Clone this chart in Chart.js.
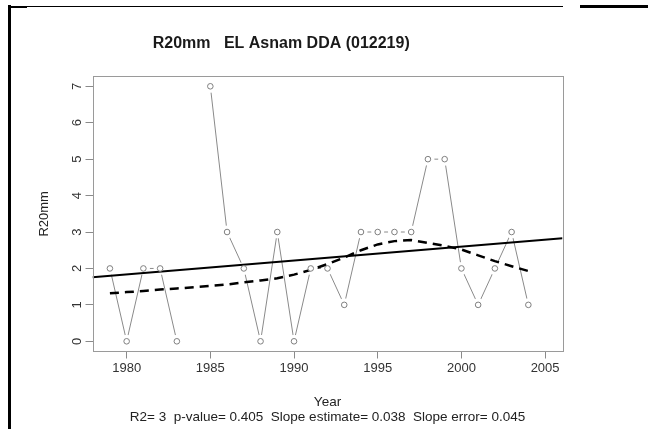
<!DOCTYPE html>
<html><head><meta charset="utf-8">
<script src="https://cdn.jsdelivr.net/npm/chart.js@4/dist/chart.umd.min.js"></script>
<style>
html,body{margin:0;padding:0;background:#fff;overflow:hidden;}
#wrap{position:relative;width:648px;height:429px;}
#c{position:absolute;left:0;top:0;}
.b{position:absolute;background:#000;}
</style></head><body>
<div id="wrap">
<canvas id="c" width="648" height="429"></canvas>
<div class="b" style="left:8px;top:5px;width:3px;height:424px"></div>
<div class="b" style="left:10px;top:6px;width:553px;height:1px"></div>
<div class="b" style="left:10px;top:6px;width:17px;height:2px"></div>
<div class="b" style="left:580px;top:5px;width:68px;height:3px"></div>
</div>
<script>
// ---- data ----
const years   = [1979,1980,1981,1982,1983,1984,1985,1986,1987,1988,1989,1990,1991,1992,1993,1994,1995,1996,1997,1998,1999,2000,2001,2002,2003,2004];
const r20mm   = [2,0,2,2,0,null,7,3,2,0,3,0,2,2,1,3,3,3,3,5,5,2,1,2,3,1];
const lowessYears  = [1979,1980,1981,1982,1983,1985,1986,1987,1988,1989,1990,1991,1992,1993,1994,1995,1996,1997,1998,1999,2000,2001,2002,2003,2004];
const lowessValues = [1.32,1.35,1.38,1.42,1.45,1.52,1.56,1.62,1.67,1.73,1.83,1.96,2.12,2.30,2.50,2.66,2.75,2.78,2.70,2.62,2.52,2.36,2.20,2.06,1.93];
const trendYears  = [1977.96, 2006.04];
const trendValues = [1.76, 2.83];
const xTicks = [1980,1985,1990,1995,2000,2005];
const yTicks = [0,1,2,3,4,5,6,7];
const titleText = 'R20mm   EL Asnam DDA (012219)';
const xLabel = 'Year';
const subLabel = 'R2= 3  p-value= 0.405  Slope estimate= 0.038  Slope error= 0.045';
const yLabel = 'R20mm';

const pts = (xs, ys) => xs.map((x, i) => ({x: x, y: ys[i]}));
const FONT = "'Liberation Sans', Arial, sans-serif";

const boxPlugin = {
  id: 'box',
  afterDatasetsDraw(chart) {
    const a = chart.chartArea, ctx = chart.ctx;
    ctx.save();
    ctx.strokeStyle = '#9a9a9a';
    ctx.lineWidth = 1;
    ctx.strokeRect(Math.round(a.left) + 0.5, Math.round(a.top) + 0.5,
                   Math.round(a.right - a.left), Math.round(a.bottom - a.top));
    ctx.restore();
  }
};

new Chart(document.getElementById('c'), {
  type: 'line',
  data: {
    datasets: [
      { data: pts(years, r20mm), borderColor: '#8a8a8a', borderWidth: 1, pointRadius: 0,
        spanGaps: false, fill: false, order: 5, tension: 0 },
      { data: pts(years, r20mm), showLine: false, pointRadius: 6.5, pointBorderWidth: 0,
        pointBackgroundColor: '#ffffff', pointBorderColor: '#ffffff', order: 4 },
      { data: pts(trendYears, trendValues), borderColor: '#000000', borderWidth: 2,
        pointRadius: 0, fill: false, order: 3 },
      { data: pts(lowessYears, lowessValues), borderColor: '#000000', borderWidth: 2.5,
        borderDash: [9, 6], pointRadius: 0, fill: false, order: 2, tension: 0 },
      { data: pts(years, r20mm), showLine: false, pointRadius: 2.8, pointBorderWidth: 1,
        pointBackgroundColor: '#ffffff', pointBorderColor: '#808080', order: 1 }
    ]
  },
  options: {
    responsive: false,
    animation: false,
    events: [],
    layout: { padding: { left: 0, right: 85.5, top: 0, bottom: 0 } },
    plugins: {
      legend: { display: false },
      tooltip: { enabled: false },
      title: {
        display: true, text: titleText, color: '#1a1a1a',
        font: { family: FONT, size: 16, weight: 'bold', lineHeight: 1.2 },
        padding: { top: 34, bottom: 22.9 }
      }
    },
    scales: {
      x: {
        type: 'linear', min: 1977.96, max: 2006.04,
        afterBuildTicks: s => { s.ticks = xTicks.map(v => ({value: v})); },
        afterFit: s => { s.height = 77.5; },
        grid: { drawOnChartArea: false, drawTicks: true, tickLength: 7, color: '#8a8a8a' },
        border: { display: false },
        ticks: { color: '#333', padding: 2, maxRotation: 0, autoSkip: false,
                 font: { family: FONT, size: 13 }, callback: v => String(v) },
        title: { display: true, text: [xLabel, subLabel], color: '#222',
                 font: { family: FONT, size: 13.5, lineHeight: 1.05 },
                 padding: { top: 0, bottom: 5 } }
      },
      y: {
        type: 'linear', min: -0.28, max: 7.28,
        afterBuildTicks: s => { s.ticks = yTicks.map(v => ({value: v})); },
        afterFit: s => { s.width = 92.5; },
        grid: { drawOnChartArea: false, drawTicks: true, tickLength: 7, color: '#8a8a8a' },
        border: { display: false },
        ticks: { color: '#333', padding: 4, minRotation: 90, maxRotation: 90,
                 crossAlign: 'center', autoSkip: false,
                 font: { family: FONT, size: 13 }, callback: v => String(v) },
        title: { display: true, text: yLabel, color: '#222',
                 font: { family: FONT, size: 13, lineHeight: 1.1 },
                 padding: { top: 37, bottom: 0 } }
      }
    }
  },
  plugins: [boxPlugin]
});
</script>
</body></html>
